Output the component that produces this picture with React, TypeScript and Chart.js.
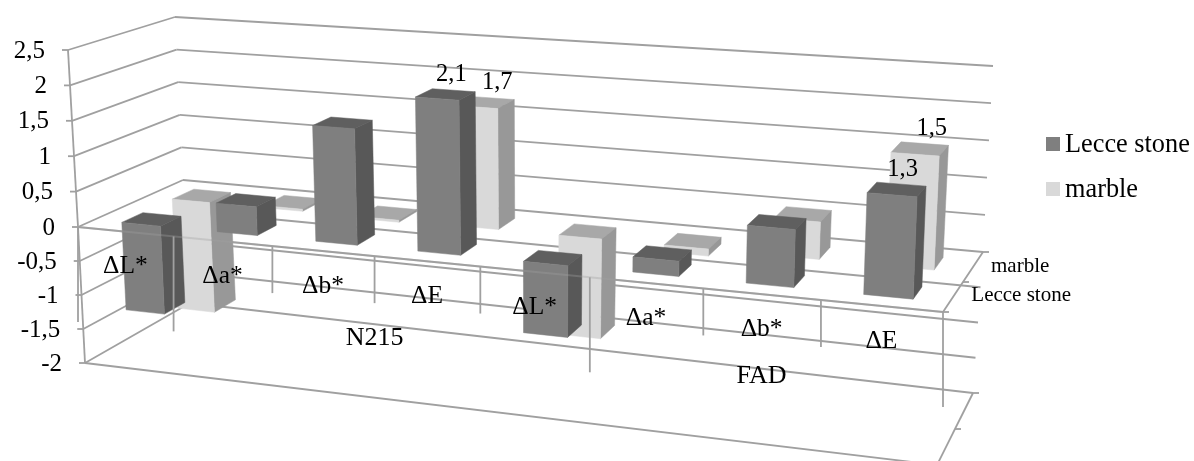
import React, { useEffect, useRef } from "react";
import { Chart, registerables } from "chart.js";

Chart.register(...registerables);

// Chart content
const categories = ["ΔL*", "Δa*", "Δb*", "ΔE", "ΔL*", "Δa*", "Δb*", "ΔE"];
const lecceStone = [-1.3, 0.4, 1.6, 2.1, -1.0, 0.2, 0.75, 1.3];
const marble = [-1.7, 0.03, -0.03, 1.7, -1.45, -0.1, 0.5, 1.5];
const labelledBars = [3, 7];
const groupLabels = ["N215", "FAD"];
const groupSpans = [[1, 5], [5, 8]];
const longTickIndices = [0, 1, 5, 8];
const seriesNames = ["Lecce stone", "marble"];
const yTicks = { min: -2, max: 2.5, stepSize: 0.5 };

// Shades per series: front face, top face, side face
const frontColors = ["#7f7f7f", "#d9d9d9"];
const topColors = ["#5f5f5f", "#a8a8a8"];
const sideColors = ["#585858", "#989898"];
const GRID = "#a0a0a0";
const SERIF = '"Liberation Serif"';

// Depth range of each series along the floor (0 front, 1 back)
const depthBands = [[0.155, 0.36], [0.645, 0.855]];

type Pt = [number, number];
// Oblique box frame: corners at the top, zero and bottom value levels
const frameTop: Pt[] = [[68, 50], [175, 17], [993, 66], [951, 112]];
const frameZero: Pt[] = [[78, 227], [183, 180], [983, 252], [943, 312]];
const frameBottom: Pt[] = [[85, 363], [190, 303], [973, 393], [937, 465]];
const FORESHORTEN = 1.15;

const lerp = (a: Pt, b: Pt, t: number): Pt => [a[0] + (b[0] - a[0]) * t, a[1] + (b[1] - a[1]) * t];

// Maps (position along categories 0..1, value, depth 0..1) onto the page
function project(u: number, value: number, w: number): Pt {
  const warped = u / (u + FORESHORTEN * (1 - u));
  const onLevel = (c: Pt[]) => lerp(lerp(c[0], c[3], warped), lerp(c[1], c[2], warped), w);
  const zero = onLevel(frameZero);
  if (value >= 0) return lerp(zero, onLevel(frameTop), value / yTicks.max);
  return lerp(zero, onLevel(frameBottom), value / yTicks.min);
}

const formatValue = (v: number) => String(v).replace(".", ",");

function line(ctx: CanvasRenderingContext2D, a: Pt, b: Pt) {
  ctx.beginPath();
  ctx.moveTo(a[0], a[1]);
  ctx.lineTo(b[0], b[1]);
  ctx.stroke();
}

function face(ctx: CanvasRenderingContext2D, pts: Pt[], color: string) {
  ctx.fillStyle = color;
  ctx.strokeStyle = color;
  ctx.lineWidth = 0.5;
  ctx.beginPath();
  pts.forEach((p, i) => (i ? ctx.lineTo(p[0], p[1]) : ctx.moveTo(p[0], p[1])));
  ctx.closePath();
  ctx.fill();
  ctx.stroke();
}

function text(ctx: CanvasRenderingContext2D, s: string, x: number, y: number, size: number, align: CanvasTextAlign = "center") {
  ctx.fillStyle = "#000";
  ctx.font = `${size}px ${SERIF}`;
  ctx.textAlign = align;
  ctx.textBaseline = "middle";
  ctx.fillText(s, x, y);
}

const boxPlot = {
  id: "boxPlot",
  beforeDatasetsDraw(chart: any) {
    const { ctx, scales } = chart;
    const yScale = scales.y;
    const xScale = scales.x;
    const n = categories.length;
    const tickValues: number[] = yScale.ticks.map((t: any) => t.value);

    ctx.save();
    ctx.lineCap = "butt";

    // Left wall, back wall and floor outlines
    tickValues.forEach((v) => {
      ctx.strokeStyle = GRID;
      ctx.lineWidth = 1.8;
      const front = project(0, v, 0);
      const backLeft = project(0, v, 1);
      const backRight = project(1, v, 1);
      line(ctx, [front[0] - 6, front[1]], front);
      line(ctx, front, backLeft);
      line(ctx, backLeft, backRight);
      text(ctx, formatValue(v), front[0] - 23, front[1] + 1, 25, "right");
    });
    ctx.strokeStyle = GRID;
    ctx.lineWidth = 1.8;
    line(ctx, project(0, yTicks.max, 0), project(0, 0, 0));
    line(ctx, project(0, 0, 0), project(0, yTicks.min, 0));
    [yTicks.min, 0].forEach((level) => {
      line(ctx, project(0, level, 0), project(1, level, 0));
      line(ctx, project(1, level, 0), project(1, level, 1));
      [0, 0.5, 1].forEach((w) => {
        const p = project(1, level, w);
        line(ctx, p, [p[0] + 6, p[1]]);
      });
    });

    // Boxes, back series first
    const area = chart.chartArea;
    const toU = (px: number) => (px - area.left) / (area.right - area.left);
    for (let d = chart.data.datasets.length - 1; d >= 0; d--) {
      const [w0, w1] = depthBands[d];
      chart.getDatasetMeta(d).data.forEach((bar: any) => {
        const half = bar.width / 2;
        const u0 = toU(bar.x - half);
        const u1 = toU(bar.x + half);
        const a = yScale.getValueForPixel(bar.y);
        const b = yScale.getValueForPixel(bar.base);
        const hi = Math.max(a, b);
        const lo = Math.min(a, b);
        face(ctx, [project(u0, hi, w0), project(u1, hi, w0), project(u1, hi, w1), project(u0, hi, w1)], topColors[d]);
        face(ctx, [project(u1, hi, w0), project(u1, hi, w1), project(u1, lo, w1), project(u1, lo, w0)], sideColors[d]);
        face(ctx, [project(u0, hi, w0), project(u1, hi, w0), project(u1, lo, w0), project(u0, lo, w0)], frontColors[d]);
      });
    }

    // Category axis over the boxes
    ctx.strokeStyle = "rgba(160,160,160,0.35)";
    ctx.lineWidth = 1.8;
    line(ctx, project(0, 0, 0), project(1, 0, 0));
    ctx.strokeStyle = GRID;
    for (let i = 0; i <= n; i++) {
      const p = project(i / n, 0, 0);
      const len = longTickIndices.includes(i) ? 95 : 47;
      line(ctx, p, [p[0], p[1] + len]);
    }

    // Category and group names
    categories.forEach((c, i) => {
      const p = project(toU(xScale.getPixelForValue(i)), 0, 0);
      text(ctx, c, p[0], p[1] + 35, 25.5);
    });
    groupLabels.forEach((g, i) => {
      const mid = (groupSpans[i][0] + groupSpans[i][1]) / 2 / n;
      const p = project(mid, 0, 0);
      text(ctx, g, p[0], p[1] + 82, 26);
    });

    // Series names along the depth axis
    seriesNames.forEach((name, d) => {
      const p = project(1, 0, (depthBands[d][0] + depthBands[d][1]) / 2);
      text(ctx, name, p[0] + 18, p[1] - 1, 21, "left");
    });

    // Value labels above the tagged boxes
    for (let d = 0; d < chart.data.datasets.length; d++) {
      const meta = chart.getDatasetMeta(d);
      labelledBars.forEach((i) => {
        const bar = meta.data[i];
        const v = chart.data.datasets[d].data[i];
        const p = project(toU(bar.x), v, (depthBands[d][0] + depthBands[d][1]) / 2);
        text(ctx, formatValue(v), p[0] + 6 + d * 6, p[1] - 20, 24.5);
      });
    }

    // Legend
    chart.data.datasets.forEach((ds: any, d: number) => {
      const y = 144 + d * 45;
      ctx.fillStyle = ds.backgroundColor;
      ctx.fillRect(1046, y - 7, 14, 14);
      text(ctx, ds.label, 1065, y + 1, 26.3, "left");
    });

    ctx.restore();
    return false;
  },
};

export default function App() {
  const ref = useRef<HTMLCanvasElement>(null);
  useEffect(() => {
    const chart = new Chart(ref.current as HTMLCanvasElement, {
      type: "bar",
      data: {
        labels: categories,
        datasets: [
          { label: seriesNames[0], data: lecceStone, backgroundColor: frontColors[0] },
          { label: seriesNames[1], data: marble, backgroundColor: frontColors[1] },
        ],
      },
      options: {
        responsive: false,
        animation: false,
        layout: { padding: 0 },
        datasets: { bar: { grouped: false, categoryPercentage: 1, barPercentage: 0.41 } },
        plugins: { legend: { display: false }, tooltip: { enabled: false } },
        scales: {
          x: { display: false },
          y: { display: false, min: yTicks.min, max: yTicks.max, ticks: { stepSize: yTicks.stepSize } },
        },
      },
      plugins: [boxPlot],
    } as any);
    return () => chart.destroy();
  }, []);
  return (
    <div style={{ position: "fixed", left: 0, top: 0, width: 1194, height: 461, background: "#fff" }}>
      <canvas ref={ref} width={1194} height={461} style={{ display: "block" }} />
    </div>
  );
}
